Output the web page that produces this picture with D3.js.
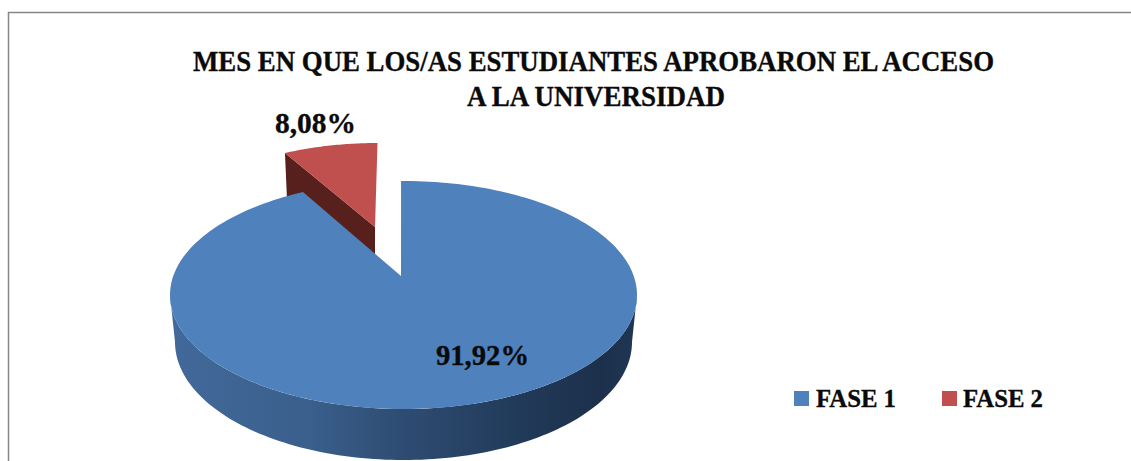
<!DOCTYPE html>
<html><head><meta charset="utf-8">
<script src="https://cdn.jsdelivr.net/npm/d3@7/dist/d3.min.js"></script>
<style>html,body{margin:0;padding:0;background:#fff}svg{display:block}text{font-family:"Liberation Serif",serif;font-weight:bold;fill:#0a0a0a;stroke:#0a0a0a;stroke-width:.35px}</style>
</head><body><svg id="c" width="1131" height="461"></svg>
<script>
const categories = ["FASE 1", "FASE 2"];
const shares = [91.92, 8.08];
const valueLabels = ["91,92%", "8,08%"];
const titleLines = ["MES EN QUE LOS/AS ESTUDIANTES APROBARON EL ACCESO", "A LA UNIVERSIDAD"];
const colors = ["#4F81BD", "#C0504D"];

const svg = d3.select("#c");
const defs = svg.append("defs");
const grad = defs.append("linearGradient").attr("id","side").attr("gradientUnits","userSpaceOnUse")
  .attr("x1",170).attr("x2",637).attr("y1",0).attr("y2",0);
[[0,"#42699a"],[0.3,"#3a5f8c"],[0.5,"#2e4c72"],[0.75,"#213a59"],[0.92,"#1c304b"],[1,"#1f3654"]]
  .forEach(([o,c])=>grad.append("stop").attr("offset",o).attr("stop-color",c));

svg.append("path").attr("d","M8.5,470V12.5H1140").attr("fill","none").attr("stroke","#868686").attr("stroke-width",1.5);

// Pie angles from d3, with a small correction for the view's foreshortening
const arcs = d3.pie().sort(null).value(d=>d)(shares);
const view = d3.scaleLinear().domain([0, arcs[0].endAngle, 2*Math.PI]).range([-0.6*Math.PI/180, 334.5*Math.PI/180, 2*Math.PI]);
const ell = (cx,cy,rx,ry)=>a=>[cx+rx*Math.sin(view(a)), cy-ry*Math.cos(view(a))];
const sample = (a0,a1,n=120)=>d3.range(n+1).map(i=>a0+(a1-a0)*i/n);
const line = d3.line();

// Exploded FASE 2 slice
const redTop = ell(377.5,246,215,103);
const redApex = [375,227], depthRed = 45;
const ra = sample(arcs[1].startAngle, arcs[1].endAngle, 40);
const rp0 = redTop(arcs[1].startAngle);
svg.append("path").attr("d", line([rp0, redApex, [redApex[0],redApex[1]+depthRed], [rp0[0]+2,rp0[1]+depthRed]])+"Z").attr("fill","#57201d");
svg.append("path").attr("d", line([redApex, ...ra.map(redTop)])+"Z").attr("fill",colors[1]);

// FASE 1 rim
const topE = ell(403.5,295,233.5,114), botE = ell(403.5,342,228.5,118);
const pi = Math.PI;
const invert = t=>view.invert(t);
const front = sample(invert(pi/2), invert(3*pi/2));
svg.append("path").attr("d", line([...front.map(topE), ...front.slice().reverse().map(botE)])+"Z").attr("fill","url(#side)");

// FASE 1 top face
const apex = [401,276];
const ba = sample(arcs[0].startAngle, arcs[0].endAngle, 240);
svg.append("path").attr("d", line([apex, ...ba.map(topE)])+"Z").attr("fill",colors[0]);

// Text
const fit = s=>s.attr("lengthAdjust","spacingAndGlyphs");
svg.selectAll("text.title").data(titleLines).join("text").attr("class","title")
  .attr("x",(d,i)=>[193,467][i]).attr("y",(d,i)=>[71,106][i]).attr("textLength",(d,i)=>[801,258][i])
  .attr("font-size",29).call(fit).text(d=>d);
svg.selectAll("text.val").data(valueLabels).join("text").attr("class","val")
  .attr("x",(d,i)=>[436,275][i]).attr("y",(d,i)=>[365,133][i]).attr("textLength",(d,i)=>[93,81][i])
  .attr("font-size",29).call(fit).text(d=>d);
const lx = [794,942], tx = [816,963];
svg.selectAll("rect.key").data(categories).join("rect").attr("class","key")
  .attr("x",(d,i)=>lx[i]).attr("y",391).attr("width",15).attr("height",15).attr("fill",(d,i)=>colors[i]);
svg.selectAll("text.key").data(categories).join("text").attr("class","key")
  .attr("x",(d,i)=>tx[i]).attr("y",407).attr("font-size",25).attr("textLength",80).call(fit).text(d=>d);
</script></body></html>
